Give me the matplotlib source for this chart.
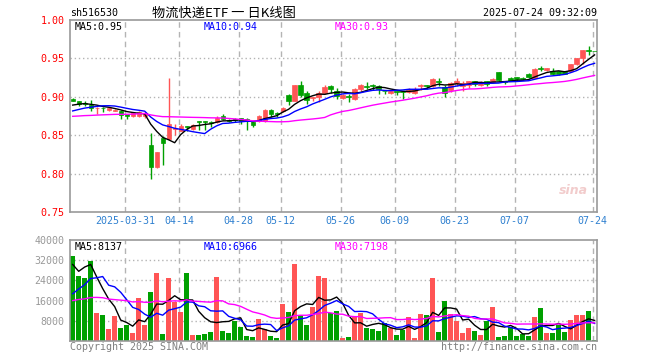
import matplotlib

matplotlib.use("Agg")
import matplotlib.pyplot as plt
import pandas as pd

# trading days shown: 2025-03-18 .. 2025-07-24 (SSE holidays removed)
START, END = "2025-03-18", "2025-07-24"
HOLIDAYS = ["2025-04-04", "2025-05-01", "2025-05-02", "2025-05-05", "2025-06-02"]

opens = [0.897, 0.894, 0.892, 0.889, 0.885, 0.886, 0.883, 0.882, 0.882, 0.877,
         0.875, 0.875, 0.875, 0.837, 0.808, 0.847, 0.845, 0.858, 0.856, 0.862,
         0.858, 0.868, 0.868, 0.867, 0.867, 0.875, 0.870, 0.871, 0.873, 0.871,
         0.867, 0.868, 0.868, 0.883, 0.879, 0.881, 0.902, 0.894, 0.915, 0.905,
         0.898, 0.900, 0.905, 0.914, 0.908, 0.898, 0.901, 0.897, 0.910, 0.914,
         0.915, 0.914, 0.908, 0.905, 0.907, 0.907, 0.906, 0.905, 0.914, 0.915,
         0.914, 0.920, 0.913, 0.909, 0.918, 0.914, 0.915, 0.921, 0.916, 0.920,
         0.919, 0.932, 0.920, 0.924, 0.926, 0.924, 0.930, 0.925, 0.937, 0.935,
         0.934, 0.933, 0.933, 0.933, 0.943, 0.951, 0.961, 0.960]
highs = [0.898, 0.895, 0.894, 0.896, 0.887, 0.887, 0.886, 0.884, 0.883, 0.878,
         0.880, 0.881, 0.880, 0.853, 0.828, 0.849, 0.924, 0.864, 0.864, 0.862,
         0.865, 0.868, 0.868, 0.868, 0.875, 0.878, 0.871, 0.873, 0.873, 0.872,
         0.867, 0.876, 0.884, 0.884, 0.880, 0.887, 0.904, 0.915, 0.921, 0.908,
         0.900, 0.907, 0.915, 0.915, 0.911, 0.903, 0.903, 0.911, 0.917, 0.919,
         0.917, 0.915, 0.908, 0.908, 0.908, 0.908, 0.912, 0.913, 0.917, 0.916,
         0.924, 0.925, 0.915, 0.919, 0.924, 0.921, 0.921, 0.921, 0.921, 0.921,
         0.925, 0.932, 0.921, 0.926, 0.926, 0.926, 0.931, 0.937, 0.940, 0.938,
         0.937, 0.933, 0.933, 0.943, 0.950, 0.961, 0.966, 0.960]
lows = [0.894, 0.888, 0.888, 0.882, 0.877, 0.880, 0.882, 0.881, 0.871, 0.871,
        0.874, 0.874, 0.872, 0.793, 0.807, 0.811, 0.844, 0.850, 0.855, 0.855,
        0.857, 0.857, 0.857, 0.861, 0.866, 0.870, 0.867, 0.867, 0.864, 0.857,
        0.861, 0.867, 0.867, 0.874, 0.874, 0.880, 0.889, 0.894, 0.900, 0.890,
        0.894, 0.893, 0.904, 0.905, 0.897, 0.897, 0.893, 0.896, 0.908, 0.910,
        0.909, 0.904, 0.903, 0.904, 0.902, 0.897, 0.905, 0.903, 0.909, 0.910,
        0.913, 0.914, 0.900, 0.906, 0.914, 0.907, 0.911, 0.914, 0.914, 0.914,
        0.918, 0.920, 0.917, 0.920, 0.921, 0.922, 0.925, 0.925, 0.933, 0.933,
        0.929, 0.929, 0.930, 0.932, 0.941, 0.943, 0.955, 0.959]
closes = [0.894, 0.890, 0.891, 0.885, 0.886, 0.885, 0.885, 0.883, 0.876, 0.875,
          0.879, 0.880, 0.879, 0.809, 0.828, 0.840, 0.864, 0.860, 0.862, 0.861,
          0.863, 0.867, 0.867, 0.866, 0.872, 0.871, 0.868, 0.870, 0.869, 0.868,
          0.863, 0.875, 0.883, 0.878, 0.878, 0.886, 0.894, 0.915, 0.902, 0.896,
          0.900, 0.905, 0.913, 0.910, 0.901, 0.902, 0.900, 0.910, 0.916, 0.913,
          0.914, 0.910, 0.907, 0.907, 0.906, 0.906, 0.909, 0.910, 0.916, 0.914,
          0.923, 0.919, 0.905, 0.918, 0.920, 0.918, 0.921, 0.917, 0.918, 0.917,
          0.923, 0.922, 0.919, 0.921, 0.923, 0.923, 0.926, 0.936, 0.936, 0.937,
          0.930, 0.930, 0.930, 0.943, 0.950, 0.961, 0.960, 0.959]
volumes = [33600, 25600, 24900, 31700, 11200, 10400, 4800, 9900, 5200, 6300,
           3200, 17200, 6400, 19600, 26800, 2800, 24800, 15600, 11600, 26800,
           2400, 2500, 2800, 3600, 25200, 4000, 3200, 7900, 5600, 2000,
           1700, 8800, 4800, 2000, 1200, 14800, 11600, 30400, 10300, 6400,
           13600, 25600, 24800, 11000, 12000, 1300, 1700, 9900, 11200, 5200,
           4800, 3900, 7200, 5300, 2400, 4500, 9600, 1200, 10800, 10300,
           24800, 3600, 16000, 10800, 8000, 3200, 5200, 4000, 2400, 7900,
           13600, 1700, 2000, 5600, 2000, 2800, 2000, 9580, 13200, 3000,
           3000, 6200, 3575, 8200, 10200, 10200, 11700, 385]

# sessions before the window, only used to warm up the moving averages
warmup_closes = [0.878, 0.876, 0.877, 0.874, 0.875, 0.876, 0.874, 0.873, 0.876,
                 0.870, 0.868, 0.866, 0.865, 0.867, 0.869, 0.866, 0.868, 0.867,
                 0.868, 0.869, 0.871, 0.873, 0.874, 0.875, 0.877,
                 0.884, 0.887, 0.890, 0.891]
warmup_volumes = [12000, 18000, 15500, 9800, 14200, 21000, 16500, 11000, 13400,
                  17800, 12600, 15000, 19200, 10400, 13800, 16900, 12100, 14700,
                  11300, 17800, 6500, 8000, 7000, 8500, 5500,
                  39100, 16400, 26700, 35700]

tick_dates = ["2025-03-31", "2025-04-14", "2025-04-28", "2025-05-12", "2025-05-26",
              "2025-06-09", "2025-06-23", "2025-07-07", "2025-07-24"]
tick_labels = ["2025-03-31", "04-14", "04-28", "05-12", "05-26", "06-09", "06-23", "07-07", "07-24"]
price_ticks = [0.75, 0.80, 0.85, 0.90, 0.95, 1.00]
vol_ticks = [8000, 16000, 24000, 32000, 40000]

RED, GREEN = "#ff5555", "#00a000"
MA_COLORS = {5: "black", 10: "#0000ff", 30: "#ff00ff"}
GRID = "#b4b4b4"
MONO = "DejaVu Sans Mono"


def moving_averages(warmup, values):
    s = pd.Series(list(warmup) + list(values), dtype=float)
    n = len(values)
    return {w: s.rolling(w).mean().to_numpy()[-n:] for w in (5, 10, 30)}


def style_panel(ax, grid_x):
    for sp in ax.spines.values():
        sp.set_color("#999999")
        sp.set_linewidth(1.2)
    for x in grid_x:
        ax.axvline(x, color=GRID, linestyle=(0, (4, 3)), linewidth=1, zorder=0)
    ax.tick_params(length=0)


dates = pd.bdate_range(START, END)
dates = dates[~dates.isin(pd.to_datetime(HOLIDAYS))]
x = list(range(len(dates)))
grid_x = [dates.get_loc(pd.Timestamp(d)) - 0.3 for d in tick_dates]

fig = plt.figure(figsize=(6.6, 3.6), dpi=100)
ax = fig.add_axes([70 / 660, 1 - 212 / 360, 527 / 660, 192 / 360])
axv = fig.add_axes([70 / 660, 1 - 341 / 360, 527 / 660, 101 / 360])

# price panel
style_panel(ax, grid_x)
for p in price_ticks[1:-1]:
    ax.axhline(p, color=GRID, linestyle=(0, (1, 2)), linewidth=1, zorder=0)
for i in x:
    o, h, l, c = opens[i], highs[i], lows[i], closes[i]
    col = RED if c >= o else GREEN
    ax.vlines(i, l, h, color=col, linewidth=1, zorder=2)
    ax.bar(i, max(abs(c - o), 0.0004), bottom=min(o, c), width=0.72,
           color=col, edgecolor=col, linewidth=0.5, zorder=3)
ma = moving_averages(warmup_closes, closes)
for w, vals in ma.items():
    ax.plot(x, vals, color=MA_COLORS[w], linewidth=1, zorder=4)
ax.set_xlim(-0.45, 87.4)
ax.set_ylim(0.75, 1.0)
ax.set_yticks(price_ticks)
ax.set_yticklabels([f"{p:.2f}" for p in price_ticks], color="red", fontsize=7.2, family=MONO)
ax.set_xticks(grid_x)
ax.set_xticklabels(tick_labels, color="#2f80d0", fontsize=7.2, family=MONO)
ax.tick_params(axis="y", pad=4)
ax.tick_params(axis="x", pad=3)
ax.text(0.008, 0.965, f"MA5:{ma[5][-1]:.2f}", transform=ax.transAxes, color="black",
        fontsize=7.2, family=MONO, va="center")
ax.text(0.254, 0.965, f"MA10:{ma[10][-1]:.2f}", transform=ax.transAxes, color=MA_COLORS[10],
        fontsize=7.2, family=MONO, va="center")
ax.text(0.503, 0.965, f"MA30:{ma[30][-1]:.2f}", transform=ax.transAxes, color=MA_COLORS[30],
        fontsize=7.2, family=MONO, va="center")
ax.text(0.955, 0.11, "sina", transform=ax.transAxes, color="#f2cccc", fontsize=9,
        fontweight="bold", style="italic", ha="center", va="center", zorder=1)

# volume panel
style_panel(axv, grid_x)
for v in vol_ticks[:-1]:
    axv.axhline(v, color=GRID, linestyle=(0, (1, 2)), linewidth=1, zorder=0)
vcols = [RED if closes[i] >= opens[i] else GREEN for i in x]
axv.bar(x, volumes, width=0.82, color=vcols, linewidth=0, zorder=2)
vma = moving_averages(warmup_volumes, volumes)
for w, vals in vma.items():
    axv.plot(x, vals, color=MA_COLORS[w], linewidth=1, zorder=4)
axv.set_xlim(-0.45, 87.4)
axv.set_ylim(0, 40000)
axv.set_yticks(vol_ticks)
axv.set_yticklabels([str(v) for v in vol_ticks], color="#999999", fontsize=7.2, family=MONO)
axv.tick_params(axis="y", pad=4)
axv.set_xticks([])
axv.text(0.008, 0.93, f"MA5:{vma[5][-1]:.0f}", transform=axv.transAxes, color="black",
         fontsize=7.2, family=MONO, va="center")
axv.text(0.254, 0.93, f"MA10:{vma[10][-1]:.0f}", transform=axv.transAxes, color=MA_COLORS[10],
         fontsize=7.2, family=MONO, va="center")
axv.text(0.503, 0.93, f"MA30:{vma[30][-1]:.0f}", transform=axv.transAxes, color=MA_COLORS[30],
         fontsize=7.2, family=MONO, va="center")

# header and footer
fig.text(70 / 660, 1 - 13 / 360, "sh516530", fontsize=7.2, family=MONO, va="center")
fig.text(224 / 660, 1 - 13 / 360, "物流快递ETF 一 日K线图", fontsize=9.5,
         family=["Noto Sans CJK SC", "DejaVu Sans"], ha="center", va="center")
fig.text(597 / 660, 1 - 13 / 360, "2025-07-24 09:32:09", fontsize=7.2, family=MONO,
         ha="right", va="center")
fig.text(70 / 660, 1 - 347 / 360, "Copyright 2025 SINA.COM", fontsize=7.2, family=MONO,
         color="#808080", va="center")
fig.text(597 / 660, 1 - 347 / 360, "http://finance.sina.com.cn", fontsize=7.2, family=MONO,
         color="#808080", ha="right", va="center")

fig.savefig("out.png", dpi=100)
